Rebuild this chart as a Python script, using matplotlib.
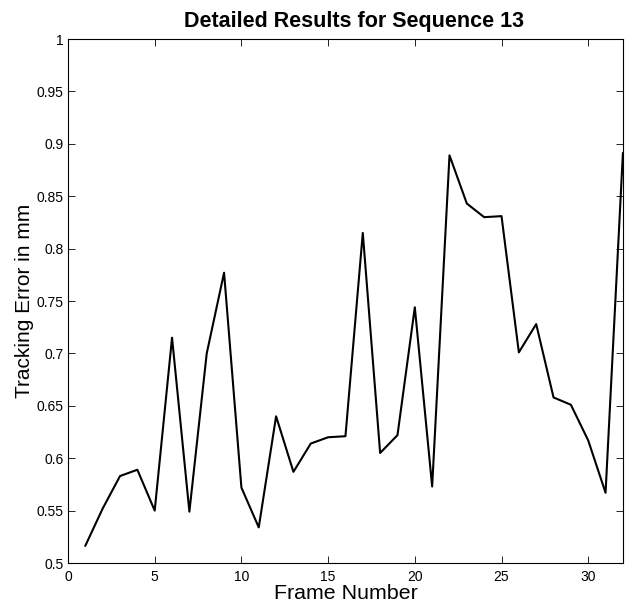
import matplotlib
matplotlib.use('Agg')
import matplotlib.pyplot as plt

plt.rcParams['font.family'] = ['Liberation Sans', 'DejaVu Sans']

frames = list(range(1, 33))
error_mm = [0.5165, 0.552, 0.583, 0.589, 0.550, 0.715, 0.549, 0.700,
            0.777, 0.572, 0.534, 0.640, 0.587, 0.614, 0.620, 0.621,
            0.815, 0.605, 0.622, 0.744, 0.573, 0.889, 0.843, 0.830,
            0.831, 0.701, 0.728, 0.658, 0.651, 0.617, 0.567, 0.891]

fig = plt.figure(figsize=(6.32, 6.03), dpi=100)
ax = fig.add_axes([0.1076, 0.0663, 0.878, 0.869])

ax.plot(frames, error_mm, color='black', linewidth=1.5)

ax.set_xlim(0, 32)
ax.set_ylim(0.5, 1)
ax.set_xticks([0, 5, 10, 15, 20, 25, 30])
ax.set_yticks([0.5, 0.55, 0.6, 0.65, 0.7, 0.75, 0.8, 0.85, 0.9, 0.95, 1])
ax.set_yticklabels(['0.5', '0.55', '0.6', '0.65', '0.7', '0.75', '0.8',
                    '0.85', '0.9', '0.95', '1'])
ax.tick_params(direction='in', top=True, right=True, length=5, width=0.6,
               labelsize=10)
ax.tick_params(axis='x', pad=5)
ax.tick_params(axis='y', pad=3)
for s in ax.spines.values():
    s.set_linewidth(0.8)

ax.set_xlabel('Frame Number', fontsize=15.4, labelpad=0)
ax.set_ylabel('Tracking Error in mm', fontsize=15, labelpad=2)
ax.set_title('Detailed Results for Sequence 13', fontsize=15.5,
             fontweight='bold', pad=8.5, x=0.515)

fig.savefig('out.png', dpi=100)
